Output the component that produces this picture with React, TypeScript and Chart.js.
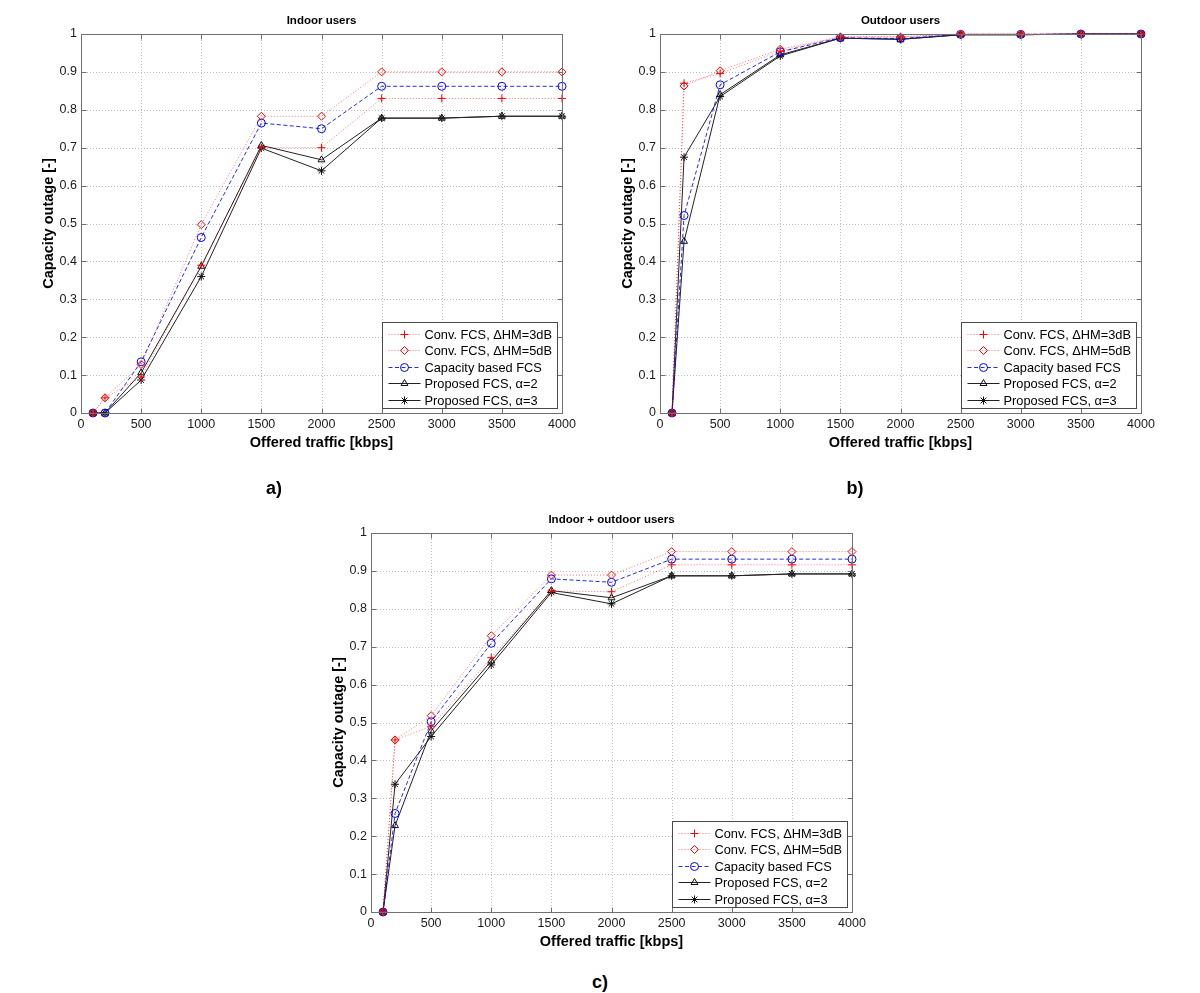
import React, { useEffect, useRef } from 'react';
import { Chart, registerables } from 'chart.js';

Chart.register(...registerables);

const FONT = '"Liberation Sans", Arial, Helvetica, sans-serif';

// ---------- data ----------
const xValues = [100, 200, 500, 1000, 1500, 2000, 2500, 3000, 3500, 4000];
const xTickLabels = ['0', '500', '1000', '1500', '2000', '2500', '3000', '3500', '4000'];
const yTickLabels = ['0', '0.1', '0.2', '0.3', '0.4', '0.5', '0.6', '0.7', '0.8', '0.9', '1'];

const seriesNames = [
  'Conv. FCS, \u0394HM=3dB',
  'Conv. FCS, \u0394HM=5dB',
  'Capacity based FCS',
  'Proposed FCS, \u03b1=2',
  'Proposed FCS, \u03b1=3',
];

// a) Indoor users
const conv3A = [0, 0.04, 0.095, 0.39, 0.70, 0.70, 0.83, 0.83, 0.83, 0.83];
const conv5A = [0, 0.04, 0.128, 0.497, 0.783, 0.783, 0.90, 0.90, 0.90, 0.90];
const capA = [0, 0, 0.135, 0.463, 0.765, 0.75, 0.862, 0.862, 0.862, 0.862];
const prop2A = [0, 0, 0.106, 0.387, 0.706, 0.668, 0.778, 0.778, 0.783, 0.783];
const prop3A = [0, 0, 0.087, 0.36, 0.699, 0.639, 0.778, 0.778, 0.783, 0.783];

// b) Outdoor users
const conv3B = [0, 0.87, 0.896, 0.955, 0.993, 0.993, 1, 1, 1, 1];
const conv5B = [0, 0.863, 0.903, 0.96, 0.992, 0.992, 1, 1, 1, 1];
const capB = [0, 0.521, 0.866, 0.953, 0.99, 0.988, 0.999, 0.999, 1, 1];
const prop2B = [0, 0.453, 0.84, 0.945, 0.989, 0.986, 0.998, 0.998, 1, 1];
const prop3B = [0, 0.675, 0.835, 0.942, 0.989, 0.986, 0.998, 0.998, 1, 1];

// c) Indoor + outdoor users
const conv3C = [0, 0.454, 0.49, 0.671, 0.847, 0.845, 0.916, 0.916, 0.916, 0.916];
const conv5C = [0, 0.454, 0.518, 0.729, 0.889, 0.889, 0.951, 0.951, 0.951, 0.951];
const capC = [0, 0.26, 0.502, 0.709, 0.879, 0.87, 0.931, 0.931, 0.931, 0.931];
const prop2C = [0, 0.228, 0.478, 0.662, 0.848, 0.829, 0.887, 0.887, 0.892, 0.892];
const prop3C = [0, 0.337, 0.463, 0.652, 0.843, 0.813, 0.887, 0.887, 0.892, 0.892];

const panelTitles = ['Indoor users', 'Outdoor users', 'Indoor + outdoor users'];
const panelLetters = ['a)', 'b)', 'c)'];
const xAxisTitle = 'Offered traffic [kbps]';
const yAxisTitle = 'Capacity outage [-]';

// ---------- styles ----------
const STYLES = [
  { color: '#ff0000', line: 'rgba(255,0,0,0.55)', dash: [1, 2], marker: 'cross' },
  { color: '#ff0000', line: 'rgba(255,0,0,0.55)', dash: [1, 2], marker: 'rectRot' },
  { color: '#0000ff', line: 'rgba(0,0,255,0.85)', dash: [4, 2.5], marker: 'circle' },
  { color: '#111111', line: '#222222', dash: [], marker: 'triangle' },
  { color: '#111111', line: '#222222', dash: [], marker: 'star' },
];

const PANELS = [
  { series: [conv3A, conv5A, capA, prop2A, prop3A], x: 0, y: 0, w: 600, h: 470, L: 81, T: 34, R: 562, B: 413, labelX: 48.5 },
  { series: [conv3B, conv5B, capB, prop2B, prop3B], x: 600, y: 0, w: 580, h: 470, L: 660, T: 34, R: 1141, B: 413, labelX: 627.5 },
  { series: [conv3C, conv5C, capC, prop2C, prop3C], x: 300, y: 490, w: 580, h: 460, L: 371, T: 533, R: 852, B: 912, labelX: 338.5 },
];
const LETTER_POS = [
  { x: 274, y: 488 },
  { x: 855, y: 488 },
  { x: 600, y: 982 },
];

const X_AXIS_H = 38.5;
const TITLE_LH = 14.5 * 1.2;
const MARKER_R = 4;

function drawMarker(ctx: CanvasRenderingContext2D, style: string, x: number, y: number, r: number) {
  ctx.beginPath();
  if (style === 'cross') {
    ctx.moveTo(x - r, y); ctx.lineTo(x + r, y);
    ctx.moveTo(x, y - r); ctx.lineTo(x, y + r);
  } else if (style === 'rectRot') {
    ctx.moveTo(x, y - r); ctx.lineTo(x + r, y); ctx.lineTo(x, y + r); ctx.lineTo(x - r, y); ctx.closePath();
  } else if (style === 'circle') {
    ctx.arc(x, y, r, 0, Math.PI * 2);
  } else if (style === 'triangle') {
    for (let k = 0; k < 3; k++) {
      const a = (k * 2 * Math.PI) / 3;
      const px = x + Math.sin(a) * r, py = y - Math.cos(a) * r;
      if (k === 0) ctx.moveTo(px, py); else ctx.lineTo(px, py);
    }
    ctx.closePath();
  } else if (style === 'star') {
    ctx.moveTo(x - r, y); ctx.lineTo(x + r, y);
    ctx.moveTo(x, y - r); ctx.lineTo(x, y + r);
    const d = r * Math.SQRT1_2;
    ctx.moveTo(x - d, y - d); ctx.lineTo(x + d, y + d);
    ctx.moveTo(x - d, y + d); ctx.lineTo(x + d, y - d);
  }
  ctx.stroke();
}

const matlabPlugin = {
  id: 'matlabDecor',
  beforeDatasetsDraw(chart: any) {
    const { ctx, chartArea: a, scales } = chart;
    ctx.save();
    ctx.strokeStyle = '#bdbdbd';
    ctx.lineWidth = 1;
    ctx.setLineDash([1, 2]);
    scales.x.ticks.forEach((t: any) => {
      const px = Math.round(scales.x.getPixelForValue(t.value)) + 0.5;
      if (px <= a.left + 1 || px >= a.right - 1) return;
      ctx.beginPath(); ctx.moveTo(px, a.top); ctx.lineTo(px, a.bottom); ctx.stroke();
    });
    scales.y.ticks.forEach((t: any) => {
      const py = Math.round(scales.y.getPixelForValue(t.value)) + 0.5;
      if (py <= a.top + 1 || py >= a.bottom - 1) return;
      ctx.beginPath(); ctx.moveTo(a.left, py); ctx.lineTo(a.right, py); ctx.stroke();
    });
    ctx.restore();
  },
  afterDatasetsDraw(chart: any, _args: any, opts: any) {
    const { ctx, chartArea: a, scales } = chart;
    ctx.save();
    ctx.setLineDash([]);
    ctx.strokeStyle = '#707070';
    ctx.lineWidth = 1;
    const l = Math.round(a.left) + 0.5, r = Math.round(a.right) + 0.5;
    const t = Math.round(a.top) + 0.5, b = Math.round(a.bottom) + 0.5;
    ctx.strokeRect(l, t, r - l, b - t);
    const TL = 5;
    ctx.beginPath();
    scales.x.ticks.forEach((tk: any) => {
      const px = Math.round(scales.x.getPixelForValue(tk.value)) + 0.5;
      ctx.moveTo(px, b); ctx.lineTo(px, b - TL);
      ctx.moveTo(px, t); ctx.lineTo(px, t + TL);
    });
    scales.y.ticks.forEach((tk: any) => {
      const py = Math.round(scales.y.getPixelForValue(tk.value)) + 0.5;
      ctx.moveTo(l, py); ctx.lineTo(l + TL, py);
      ctx.moveTo(r, py); ctx.lineTo(r - TL, py);
    });
    ctx.stroke();

    ctx.fillStyle = '#000';
    ctx.font = `bold 11.5px ${FONT}`;
    ctx.textAlign = 'center';
    ctx.textBaseline = 'middle';
    ctx.fillText(opts.title, (a.left + a.right) / 2, a.top - 13);

    const bw = 175, bh = 86;
    const bx = Math.round(a.right - 5 - bw) + 0.5;
    const by = Math.round(a.bottom - 5 - bh) + 0.5;
    ctx.fillStyle = '#ffffff';
    ctx.fillRect(bx, by, bw, bh);
    ctx.strokeStyle = '#4a4a4a';
    ctx.strokeRect(bx, by, bw, bh);
    ctx.font = `12.8px ${FONT}`;
    ctx.textAlign = 'left';
    ctx.textBaseline = 'middle';
    chart.data.datasets.forEach((ds: any, i: number) => {
      const st = STYLES[i];
      const yy = Math.round(by + 11 + i * 16.5) + 0.5;
      ctx.strokeStyle = st.line;
      ctx.setLineDash(st.dash);
      ctx.lineWidth = 1;
      ctx.beginPath(); ctx.moveTo(bx + 6, yy); ctx.lineTo(bx + 38, yy); ctx.stroke();
      ctx.setLineDash([]);
      ctx.strokeStyle = st.color;
      drawMarker(ctx, st.marker, bx + 22, yy, MARKER_R);
      ctx.fillStyle = '#000';
      ctx.fillText(ds.label, bx + 42, yy + 0.5);
    });
    ctx.restore();
  },
};

function Panel({ idx }: { idx: number }) {
  const ref = useRef<HTMLCanvasElement | null>(null);
  const p = PANELS[idx];
  useEffect(() => {
    if (!ref.current) return;
    const W = p.L - p.x;
    const padT = p.T - p.y;
    const padR = p.x + p.w - p.R;
    const padB = p.y + p.h - p.B - X_AXIS_H;
    const tp = p.labelX - p.x - TITLE_LH / 2;
    const chart = new Chart(ref.current, {
      type: 'line',
      data: {
        datasets: p.series.map((vals, i) => ({
          label: seriesNames[i],
          data: xValues.map((x, j) => ({ x, y: vals[j] })),
          borderColor: STYLES[i].line,
          borderWidth: 1,
          borderDash: STYLES[i].dash,
          pointStyle: STYLES[i].marker as any,
          pointRadius: MARKER_R,
          pointBorderColor: STYLES[i].color,
          pointBackgroundColor: 'rgba(0,0,0,0)',
          pointBorderWidth: 1,
          tension: 0,
          fill: false,
          clip: false as any,
        })),
      },
      options: {
        responsive: false,
        animation: false,
        devicePixelRatio: 1,
        events: [],
        layout: { padding: { left: 0, top: padT, right: padR, bottom: padB } },
        plugins: {
          legend: { display: false },
          tooltip: { enabled: false },
          title: { display: false },
          matlabDecor: { title: panelTitles[idx] },
        } as any,
        scales: {
          x: {
            type: 'linear',
            min: 0,
            max: 4000,
            ticks: {
              stepSize: 500,
              autoSkip: false,
              maxRotation: 0,
              padding: 4.5,
              color: '#1a1a1a',
              font: { family: FONT, size: 12.5 },
              callback: (v: any) => xTickLabels[Math.round(Number(v) / 500)] ?? '',
            },
            grid: { display: false, drawTicks: false },
            border: { display: false },
            title: {
              display: true,
              text: xAxisTitle,
              color: '#000',
              font: { family: FONT, size: 14.5, weight: 'bold' },
              padding: { top: 0, bottom: 0 },
            },
            afterFit: (s: any) => { s.height = X_AXIS_H; },
          },
          y: {
            type: 'linear',
            min: 0,
            max: 1,
            ticks: {
              stepSize: 0.1,
              autoSkip: false,
              padding: 4,
              color: '#1a1a1a',
              font: { family: FONT, size: 12.5 },
              callback: (v: any) => yTickLabels[Math.round(Number(v) * 10)] ?? '',
            },
            grid: { display: false, drawTicks: false },
            border: { display: false },
            title: {
              display: true,
              text: yAxisTitle,
              color: '#000',
              font: { family: FONT, size: 14.5, weight: 'bold' },
              padding: { top: tp, bottom: 0 },
            },
            afterFit: (s: any) => { s.width = W; },
          },
        } as any,
      },
      plugins: [matlabPlugin as any],
    });
    return () => chart.destroy();
  }, []);
  return (
    <canvas
      ref={ref}
      width={p.w}
      height={p.h}
      style={{ position: 'absolute', left: p.x, top: p.y, width: p.w, height: p.h }}
    />
  );
}

export default function App() {
  return (
    <div style={{ position: 'absolute', left: 0, top: 0, width: 1200, height: 993, background: '#fff', overflow: 'hidden' }}>
      {PANELS.map((_, i) => (
        <Panel key={i} idx={i} />
      ))}
      {LETTER_POS.map((pos, i) => (
        <div
          key={'l' + i}
          style={{
            position: 'absolute',
            left: pos.x - 30,
            top: pos.y - 12,
            width: 60,
            height: 24,
            lineHeight: '24px',
            textAlign: 'center',
            fontFamily: FONT,
            fontWeight: 'bold',
            fontSize: 18,
            color: '#000',
          }}
        >
          {panelLetters[i]}
        </div>
      ))}
    </div>
  );
}
